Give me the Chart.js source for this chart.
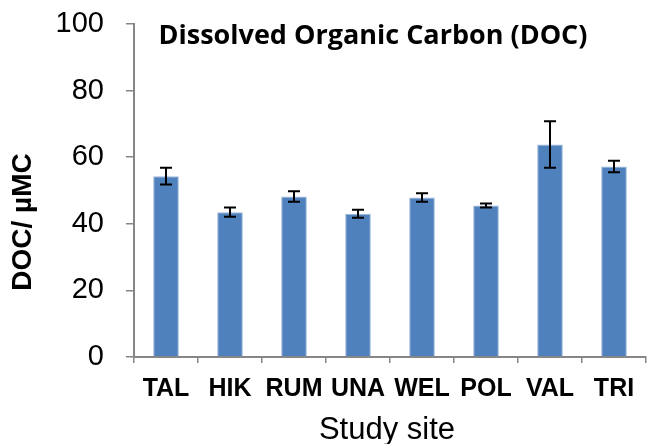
<!DOCTYPE html>
<html>
<head>
<meta charset="utf-8">
<script src="https://cdn.jsdelivr.net/npm/chart.js@4"></script>
<style>
  html, body { margin: 0; padding: 0; background: #fff; }
  #wrap { width: 655px; height: 444px; }
</style>
</head>
<body>
<div id="wrap"><canvas id="docChart"></canvas></div>
<script>
// values
const sites = ['TAL', 'HIK', 'RUM', 'UNA', 'WEL', 'POL', 'VAL', 'TRI'];
const docMean = [54.3, 43.5, 48.2, 43.0, 47.9, 45.5, 63.8, 57.2];
const docErr = [2.5, 1.4, 1.6, 1.2, 1.3, 0.6, 7.0, 1.7];

const axisGrey = '#868686';
const arial = '"Liberation Sans", Arial, sans-serif';

// error bars drawn on top of the bars
const errorBars = {
    id: 'errorBars',
    afterDatasetsDraw(chart) {
        const ctx = chart.ctx;
        const meta = chart.getDatasetMeta(0);
        const y = chart.scales.y;
        ctx.save();
        ctx.strokeStyle = '#000';
        ctx.lineWidth = 2;
        meta.data.forEach((bar, i) => {
            const top = y.getPixelForValue(docMean[i] + docErr[i]);
            const bottom = y.getPixelForValue(docMean[i] - docErr[i]);
            ctx.beginPath();
            ctx.moveTo(bar.x, top);
            ctx.lineTo(bar.x, bottom);
            ctx.moveTo(bar.x - 6, top);
            ctx.lineTo(bar.x + 6, top);
            ctx.moveTo(bar.x - 6, bottom);
            ctx.lineTo(bar.x + 6, bottom);
            ctx.stroke();
        });
        ctx.restore();
    },
};

// chart title inside the plot area, plus the two axis titles
const titles = {
    id: 'titles',
    afterDraw(chart) {
        const ctx = chart.ctx;
        ctx.save();
        ctx.fillStyle = '#000';
        ctx.textAlign = 'center';
        ctx.textBaseline = 'middle';
        ctx.font = 'bold 27px "Open Sans", "Liberation Sans", sans-serif';
        ctx.fillText('Dissolved Organic Carbon (DOC)', 373, 36);

        ctx.textBaseline = 'alphabetic';
        ctx.font = '31px ' + arial;
        ctx.fillText('Study site', 387, 439);

        ctx.translate(23, 222);
        ctx.rotate(-Math.PI / 2);
        ctx.textBaseline = 'middle';
        ctx.font = 'bold 28px ' + arial;
        ctx.fillText('DOC/ µMC', 0, 0);
        ctx.restore();
    },
};

new Chart(document.getElementById('docChart').getContext('2d'), {
    type: 'bar',
    data: {
        labels: sites,
        datasets: [{
            label: 'DOC',
            data: docMean,
            backgroundColor: '#4F81BD',
            borderColor: '#9db8dc',
            borderWidth: 1,
            categoryPercentage: 1,
            barPercentage: 0.4,
        }],
    },
    options: {
        responsive: true,
        maintainAspectRatio: false,
        animation: false,
        devicePixelRatio: 1,
        layout: { padding: { left: 0, right: 9, top: 24, bottom: 0 } },
        plugins: {
            legend: { display: false },
            tooltip: { enabled: false },
        },
        scales: {
            x: {
                afterFit(scale) { scale.height = 87; },
                border: { color: axisGrey, width: 2 },
                grid: {
                    drawOnChartArea: false,
                    drawTicks: true,
                    tickLength: 6,
                    color: axisGrey,
                    lineWidth: 1.5,
                    offset: true,
                },
                ticks: {
                    color: '#000',
                    padding: 11,
                    font: { family: arial, size: 25, weight: 'bold' },
                },
            },
            y: {
                min: 0,
                max: 100,
                afterFit(scale) {
                    scale.width = 134;
                    scale.paddingTop = 0;
                    scale.paddingBottom = 0;
                },
                border: { color: axisGrey, width: 2 },
                grid: {
                    drawOnChartArea: false,
                    drawTicks: true,
                    tickLength: 8,
                    color: axisGrey,
                    lineWidth: 1.5,
                },
                ticks: {
                    stepSize: 20,
                    color: '#000',
                    padding: 22,
                    font: { family: arial, size: 29, lineHeight: 1 },
                },
            },
        },
    },
    plugins: [errorBars, titles],
});
</script>
</body>
</html>
